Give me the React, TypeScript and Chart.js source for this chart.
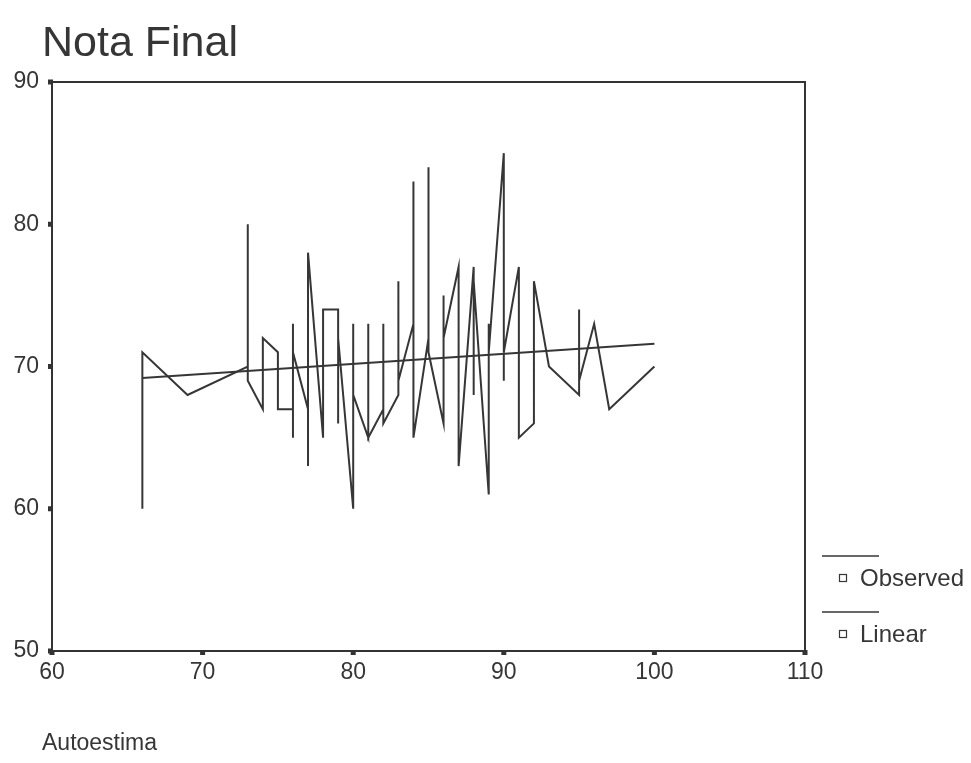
import React, { useEffect, useRef } from "react";
import { Chart, registerables } from "chart.js";

Chart.register(...registerables);

// Observed series (Autoestima vs Nota Final), in drawing order
const autoestima = [
  66, 66, 69, 73, 73, 73, 74, 74, 75, 75, 76, 76, 76, 76, 77, 77, 77, 78, 78, 79,
  79, 79, 80, 80, 80, 81, 81, 81, 82, 82, 82, 83, 83, 83, 84, 84, 84, 85, 85, 85,
  86, 86, 86, 87, 87, 88, 88, 88, 89, 89, 89, 90, 90, 90, 91, 91, 92, 92, 93, 95,
  95, 95, 96, 97, 100,
];
const notaFinal = [
  60, 71, 68, 70, 80, 69, 67, 72, 71, 67, 67, 73, 65, 71, 67, 63, 78, 65, 74, 74,
  66, 72, 60, 73, 68, 65, 73, 65, 67, 73, 66, 68, 76, 69, 73, 83, 65, 72, 84, 71,
  66, 75, 72, 77, 63, 77, 68, 76, 61, 73, 71, 85, 69, 71, 77, 65, 66, 76, 70, 68,
  74, 69, 73, 67, 70,
];

// Linear fit line (read at its two ends)
const linearX = [66, 100];
const linearY = [69.2, 71.6];

const xTicks = [60, 70, 80, 90, 100, 110];
const yTicks = [50, 60, 70, 80, 90];
const seriesNames = ["Observed", "Linear"];
const chartTitle = "Nota Final";
const xTitle = "Autoestima";

const INK = "#363636";
const FONT = "'Liberation Sans', Arial, sans-serif";

const decorPlugin = {
  id: "decor",
  afterDraw(chart: any) {
    const { ctx, chartArea } = chart;
    const { left, right, top, bottom } = chartArea;
    ctx.save();
    // frame
    ctx.strokeStyle = "#333";
    ctx.lineWidth = 2;
    ctx.strokeRect(left, top, right - left, bottom - top);
    // tick squares
    ctx.fillStyle = "#333";
    const xs = chart.scales.x;
    const ys = chart.scales.y;
    xTicks.forEach((v) => {
      const px = xs.getPixelForValue(v);
      ctx.fillRect(px - 2.5, bottom - 1, 5, 5);
    });
    yTicks.forEach((v) => {
      const py = ys.getPixelForValue(v);
      ctx.fillRect(left - 4, py - 2.5, 5, 5);
    });
    // title
    ctx.fillStyle = INK;
    ctx.textBaseline = "alphabetic";
    ctx.textAlign = "left";
    ctx.font = `43px ${FONT}`;
    ctx.fillText(chartTitle, 42, 56);
    // x axis title
    ctx.font = `23px ${FONT}`;
    ctx.fillText(xTitle, 42, 750);
    // legend
    const lx0 = 822;
    const lx1 = 879;
    const rows = [
      { lineY: 556, textY: 586 },
      { lineY: 612, textY: 642 },
    ];
    seriesNames.forEach((name, i) => {
      const r = rows[i];
      ctx.strokeStyle = INK;
      ctx.lineWidth = 1.5;
      ctx.beginPath();
      ctx.moveTo(lx0, r.lineY);
      ctx.lineTo(lx1, r.lineY);
      ctx.stroke();
      ctx.lineWidth = 1.2;
      ctx.strokeRect(839.5, r.textY - 11.5, 7, 7);
      ctx.fillStyle = INK;
      ctx.font = `24px ${FONT}`;
      ctx.textBaseline = "alphabetic";
      ctx.fillText(name, 860, r.textY);
    });
    ctx.restore();
  },
};

export default function App() {
  const canvasRef = useRef<HTMLCanvasElement | null>(null);

  useEffect(() => {
    const canvas = canvasRef.current;
    if (!canvas) return;
    const observed = autoestima.map((x, i) => ({ x, y: notaFinal[i] }));
    const linear = linearX.map((x, i) => ({ x, y: linearY[i] }));
    const chart = new Chart(canvas, {
      type: "scatter",
      data: {
        datasets: [
          {
            label: seriesNames[0],
            data: observed,
            showLine: true,
            borderColor: INK,
            borderWidth: 2,
            pointRadius: 0,
            tension: 0,
          },
          {
            label: seriesNames[1],
            data: linear,
            showLine: true,
            borderColor: INK,
            borderWidth: 2,
            pointRadius: 0,
            tension: 0,
          },
        ],
      },
      options: {
        responsive: false,
        animation: false,
        devicePixelRatio: 1,
        layout: { padding: { left: 8, top: 82, right: 166, bottom: 72 } },
        plugins: {
          legend: { display: false },
          title: { display: false },
          tooltip: { enabled: false },
        },
        scales: {
          x: {
            type: "linear",
            min: 60,
            max: 110,
            afterBuildTicks: (s: any) => {
              s.ticks = xTicks.map((v) => ({ value: v }));
            },
            afterFit: (s: any) => {
              s.height = 40;
            },
            grid: { display: false, drawTicks: false },
            border: { display: false },
            ticks: {
              color: INK,
              font: { family: FONT, size: 23 },
              padding: 8,
              maxRotation: 0,
              autoSkip: false,
            },
          },
          y: {
            type: "linear",
            min: 50,
            max: 90,
            afterBuildTicks: (s: any) => {
              s.ticks = yTicks.map((v) => ({ value: v }));
            },
            afterFit: (s: any) => {
              s.width = 44;
            },
            grid: { display: false, drawTicks: false },
            border: { display: false },
            ticks: {
              color: INK,
              font: { family: FONT, size: 23 },
              padding: 13,
              autoSkip: false,
            },
          },
        },
      },
      plugins: [decorPlugin],
    });
    return () => chart.destroy();
  }, []);

  return (
    <div style={{ position: "absolute", left: 0, top: 0, width: 971, height: 763, background: "#fff" }}>
      <canvas ref={canvasRef} width={971} height={763} style={{ display: "block" }} />
    </div>
  );
}
